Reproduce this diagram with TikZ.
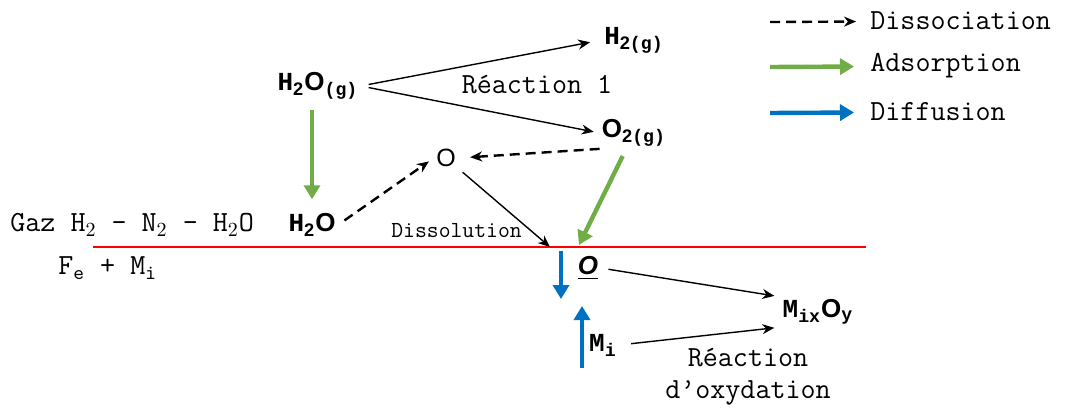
\documentclass[tikz,border=0pt]{standalone}
\usepackage{fontspec}
\newfontfamily\sansb{Liberation Sans}
\newfontfamily\monob{Liberation Mono}
\usepackage{xcolor}
\usepackage{tikz}
\usetikzlibrary{arrows.meta,positioning}

\definecolor{adsgreen}{RGB}{112,173,71}
\definecolor{diffblue}{RGB}{0,112,192}
\newcommand{\Oa}{{\sansb O}}

\begin{document}
\begin{tikzpicture}[x=0.5pt,y=-0.5pt,
  species/.style={inner sep=1pt, font=\monob\bfseries\fontsize{13}{15}\selectfont},
  txt/.style={inner sep=0pt, font=\ttfamily\fontsize{14.6}{16}\selectfont},
  reac/.style={-{Stealth[length=6pt,width=5pt]}, line width=0.7pt},
  diss/.style={reac, dash pattern=on 5pt off 3pt, line width=1.2pt},
  adsorb/.style={-{Triangle[length=7pt,width=8pt]}, line width=2.2pt, adsgreen},
  diffu/.style={adsorb, diffblue}
]
  \useasboundingbox (0,0) rectangle (1065,407);

  % gas phase
  \node[species] (h2og) at (318,86)  {H\textsubscript{\sansb 2}\Oa\textsubscript{(g)}};
  \node[species] (h2g)  at (634,40)  {H\textsubscript{{\sansb 2}(g)}};
  \node[species] (o2g)  at (634,133) {\Oa\textsubscript{{\sansb 2}(g)}};
  \node[species, font=\sansb\fontsize{12.5}{14}\selectfont] (oat) at (446,158) {O};
  \node[species] (h2o)  at (312,225) {H\textsubscript{\sansb 2}\Oa};
  \node[txt] (reac1) at (537,85) {Réaction 1};

  % metal side
  \node[species] (oul)   at (588,268) {\underline{\sansb\itshape O}};
  \node[species] (mixoy) at (818,312) {M\textsubscript{ix}\Oa\textsubscript{y}};
  \node[species] (mi)    at (603,345) {M\textsubscript{i}};
  \node[txt, align=center] (reacox) at (748,377) {Réaction\\d’oxydation};

  \node[txt, anchor=west] (gaz) at (10,225) {Gaz H$_2$ - N$_2$ - H$_2$O};
  \node[txt, anchor=west] (fem) at (58,268) {F\textsubscript{e} + M\textsubscript{i}};
  \node[txt, anchor=west, font=\ttfamily\fontsize{11.5}{13}\selectfont] (dissol) at (391,231) {Dissolution};

  % legend
  \node[txt, anchor=west] (lgdiss) at (870,21)  {Dissociation};
  \node[txt, anchor=west] (lgads)  at (870,66)  {Adsorption};
  \node[txt, anchor=west] (lgdiff) at (870,112) {Diffusion};
  \coordinate (ldiss) at (770,22);
  \coordinate (lads)  at (770,67);
  \coordinate (ldiff) at (770,113);
  \draw[diss, shorten >=7pt]   (ldiss) -- (lgdiss);
  \draw[adsorb, shorten >=8pt] (lads)  -- (lgads);
  \draw[diffu, shorten >=8pt]  (ldiff) -- (lgdiff);

  % surface
  \coordinate (surfL) at (93,247);
  \coordinate (surfR) at (866,247);
  \coordinate (hitO)  at (550,247);
  \coordinate (hitO2) at (579,245);
  \draw[red, line width=1.4pt] (surfL) -- (surfR);

  % reactions
  \draw[reac, shorten <=4pt, shorten >=6pt] (h2og.east) -- (h2g.west);
  \draw[reac, shorten <=4pt, shorten >=3pt] (h2og.east) -- (o2g.west);
  \draw[diss, shorten >=6pt] (o2g.south west) -- (oat.east);
  \draw[diss, shorten <=4pt, shorten >=3pt] (h2o.east) -- (oat.west);
  \draw[reac, shorten <=3pt] (oat) -- (hitO);
  \draw[adsorb, shorten <=4pt, shorten >=6pt] (h2og.south -| h2o) -- (h2o.north);
  \draw[adsorb, shorten <=4pt] (o2g) -- (hitO2);
  \draw[reac, shorten <=4pt, shorten >=3pt] (oul.east) -- (mixoy.north west);
  \draw[reac, shorten <=6pt, shorten >=3pt] (mi.east) -- (mixoy.south west);

  % diffusion
  \coordinate (dtop) at (561,251);
  \coordinate (dbot) at (561,299);
  \coordinate (ubot) at (582,368);
  \coordinate (utop) at (582,306);
  \draw[diffu] (dtop) -- (dbot);
  \draw[diffu] (ubot) -- (utop);
\end{tikzpicture}
\end{document}
